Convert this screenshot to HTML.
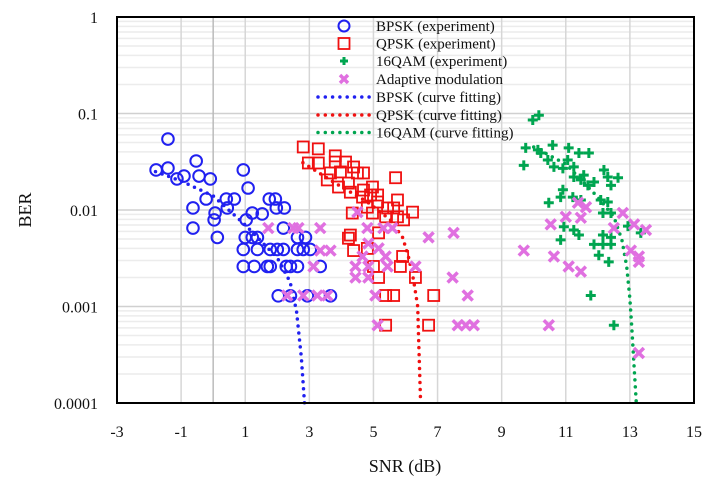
<!DOCTYPE html>
<html><head><meta charset="utf-8"><style>
html,body{margin:0;padding:0;background:#fff;}
svg{display:block;font-family:"Liberation Serif",serif;}
</style></head><body>
<svg id="chart" width="712" height="483" viewBox="0 0 712 483"></svg>
<script>
const bpskX=[-1.41,-1.78,-1.41,-0.53,-1.13,-0.91,-0.44,-0.09,0.94,1.09,-0.22,0.41,0.66,0.44,-0.63,0.06,0.03,-0.63,0.13,1.22,1.53,1.03,1.75,1.94,1.97,2.22,2.19,1.0,1.22,1.38,2.63,2.88,0.94,1.38,1.78,2.0,2.19,2.63,2.81,3.03,0.94,1.28,1.69,1.78,2.28,2.41,2.63,3.34,2.03,2.41,2.94,3.66];
const bpskY=[0.0544,0.026,0.0272,0.0322,0.021,0.0225,0.0225,0.021,0.026,0.0169,0.013,0.013,0.013,0.0105,0.0105,0.0093,0.0079,0.0065,0.0052,0.0093,0.0091,0.0079,0.013,0.013,0.0105,0.0105,0.0065,0.0052,0.0052,0.0052,0.0052,0.0052,0.0039,0.0039,0.0039,0.0039,0.0039,0.0039,0.0039,0.0039,0.0026,0.0026,0.0026,0.0026,0.0026,0.0026,0.0026,0.0026,0.00129,0.00129,0.00129,0.00129];
const qpskX=[2.81,3.28,2.97,3.28,3.81,3.81,4.13,3.66,3.97,4.38,4.5,4.69,3.56,3.91,4.22,4.28,4.69,4.97,5.69,4.66,4.91,5.13,5.13,4.81,4.97,5.44,5.75,5.63,5.38,5.75,5.94,6.22,4.34,4.28,4.22,5.16,4.38,4.81,5.91,5.0,5.84,5.16,6.31,5.38,5.63,6.88,5.38,6.72];
const qpskY=[0.045,0.043,0.0307,0.0307,0.0364,0.0314,0.0314,0.0242,0.0248,0.0279,0.0242,0.0242,0.0205,0.0173,0.019,0.0153,0.0161,0.0173,0.0216,0.0136,0.0143,0.0143,0.0121,0.0107,0.0093,0.0105,0.0127,0.0105,0.0085,0.0085,0.0079,0.0095,0.0093,0.0055,0.0051,0.0058,0.0038,0.004,0.0033,0.0026,0.0026,0.002,0.002,0.0013,0.0013,0.0013,0.00064,0.00064];
const qamX=[10.16,9.97,9.75,9.69,10.13,10.22,10.59,10.44,10.63,11.09,11.06,10.91,11.25,11.41,11.72,11.25,11.47,11.56,11.69,11.88,12.19,12.31,12.63,12.41,10.91,10.84,10.47,11.22,11.47,12.09,12.31,12.16,12.41,10.94,11.25,11.41,10.84,12.16,12.41,11.88,12.16,12.41,12.03,12.34,12.94,13.34,11.78,12.5];
const qamY=[0.096,0.0856,0.044,0.029,0.042,0.039,0.047,0.033,0.028,0.044,0.033,0.027,0.028,0.039,0.039,0.022,0.0205,0.023,0.018,0.0195,0.026,0.022,0.0216,0.018,0.0162,0.0136,0.0119,0.0136,0.0127,0.0127,0.0121,0.0093,0.0093,0.0067,0.0062,0.0055,0.0049,0.0055,0.0052,0.0044,0.0044,0.0044,0.0034,0.0029,0.0068,0.0058,0.0013,0.00064];
const adaX=[1.72,2.5,2.66,3.34,4.81,5.31,6.72,4.5,3.34,3.66,4.84,5.16,4.66,5.38,4.44,4.84,5.44,6.31,3.13,4.44,4.84,2.31,2.81,3.25,3.56,5.06,5.13,7.5,7.47,7.94,5.59,7.63,7.88,8.13,9.69,10.47,10.53,11.0,11.47,11.38,11.63,10.63,11.09,11.47,12.78,12.5,13.13,13.5,13.03,13.28,13.28,13.28];
const adaY=[0.0065,0.0065,0.0065,0.0065,0.0065,0.0065,0.0052,0.0095,0.0038,0.0038,0.0045,0.004,0.0033,0.0033,0.0026,0.0026,0.0026,0.0026,0.0026,0.002,0.002,0.0013,0.0013,0.0013,0.0013,0.0013,0.00064,0.0058,0.002,0.0013,0.0065,0.00064,0.00064,0.00064,0.0038,0.00064,0.0071,0.0085,0.0083,0.0119,0.0107,0.0033,0.0026,0.0023,0.0093,0.0065,0.0071,0.0062,0.0038,0.0033,0.0029,0.00033];
const fitBpskX=[-1.8,-1,0,1,2,2.4,2.6,2.75,2.85];
const fitBpskY=[0.025,0.02,0.014,0.007,0.0032,0.0018,0.0009,0.0003,0.0001];
const fitQpskX=[2.8,3.75,4.81,5.53,5.91,6.09,6.25,6.38,6.41,6.47];
const fitQpskY=[0.031,0.0195,0.0121,0.0079,0.0052,0.0033,0.0019,0.001,0.00047,0.0001];
const fitQamX=[10,11,12,12.5,12.75,12.9,13.0,13.06,13.12,13.2];
const fitQamY=[0.045,0.03,0.0136,0.0085,0.0049,0.0026,0.0012,0.0006,0.00028,0.0001];
const xTicks=[-3,-1,1,3,5,7,9,11,13,15];
const yTicks=[1,0.1,0.01,0.001,0.0001];
const yTickLabels=["1","0.1","0.01","0.001","0.0001"];

const L=117,R=694,T=17,B=403;
const sx=v=>L+(v+3)/18*(R-L);
const sy=v=>T+(-Math.log10(v))/4*(B-T);
const svg=document.getElementById('chart');
const NS='http://www.w3.org/2000/svg';
function mk(tag,attrs,parent){const e=document.createElementNS(NS,tag);for(const k in attrs)e.setAttribute(k,attrs[k]);(parent||svg).appendChild(e);return e;}

const grid=mk('g',{});


for(let d=0;d<4;d++){for(let m=2;m<=9;m++){const v=Math.pow(10,-d-1)*m;mk('line',{x1:L,x2:R,y1:sy(v),y2:sy(v),stroke:'#ececec','stroke-width':1.5},grid);}}
yTicks.forEach(v=>mk('line',{x1:L,x2:R,y1:sy(v),y2:sy(v),stroke:'#d0d0d0','stroke-width':1.5},grid));
xTicks.forEach(v=>mk('line',{x1:sx(v),x2:sx(v),y1:T,y2:B,stroke:'#d6d6d6','stroke-width':1.5},grid));
mk('line',{x1:sx(0),x2:sx(0),y1:T,y2:B,stroke:'#bbbbbb','stroke-width':1.5},grid);

function curve(xs,ys,color,name){const g=mk('g',{});


const d=xs.map((x,i)=>(i?'L':'M')+sx(x).toFixed(1)+' '+sy(ys[i]).toFixed(1)).join(' ');
mk('path',{d:d,fill:'none',stroke:color,'stroke-width':3.5,'stroke-linecap':'round','stroke-dasharray':'0 7'},g);}

function circles(xs,ys){const g=mk('g',{});


xs.forEach((x,i)=>mk('circle',{cx:sx(x),cy:sy(ys[i]),r:5.8,fill:'none',stroke:'#2020f0','stroke-width':2},g));}
function squares(xs,ys){const g=mk('g',{});


xs.forEach((x,i)=>mk('rect',{x:sx(x)-5.5,y:sy(ys[i])-5.5,width:11,height:11,fill:'none',stroke:'#f01010','stroke-width':1.8},g));}
function pluses(xs,ys){const g=mk('g',{});


xs.forEach((x,i)=>{const cx=sx(x),cy=sy(ys[i]);mk('path',{d:`M${cx-5} ${cy}H${cx+5}M${cx} ${cy-5}V${cy+5}`,stroke:'#00a550','stroke-width':3},g);});}
function crosses(xs,ys){const g=mk('g',{});


xs.forEach((x,i)=>{const cx=sx(x),cy=sy(ys[i]);mk('path',{d:`M${cx-5} ${cy-5}L${cx+5} ${cy+5}M${cx-5} ${cy+5}L${cx+5} ${cy-5}`,stroke:'#e070e0','stroke-width':3.5},g);});}

curve(fitBpskX,fitBpskY,'#2020f0','bpsk-fit-curve');
curve(fitQpskX,fitQpskY,'#f01010','qpsk-fit-curve');
curve(fitQamX,fitQamY,'#00a550','16qam-fit-curve');
circles(bpskX,bpskY);squares(qpskX,qpskY);pluses(qamX,qamY);crosses(adaX,adaY);

const frame=mk('rect',{x:L,y:T,width:R-L,height:B-T,fill:'none',stroke:'#000','stroke-width':2});



xTicks.forEach(v=>{const t=mk('text',{x:sx(v),y:437,'text-anchor':'middle','font-size':16,fill:'#111'});t.textContent=v;

});
yTicks.forEach((v,i)=>{const t=mk('text',{x:98,y:sy(v)+6,'text-anchor':'end','font-size':16,fill:'#111'});t.textContent=yTickLabels[i];

});
const xt=mk('text',{x:405,y:472,'text-anchor':'middle','font-size':18,fill:'#111'});xt.textContent='SNR (dB)';


const yt=mk('text',{x:0,y:0,'text-anchor':'middle','font-size':18,fill:'#111',transform:'translate(31,210) rotate(-90)'});yt.textContent='BER';



const lg=mk('g',{});


const labels=['BPSK (experiment)','QPSK (experiment)','16QAM (experiment)','Adaptive modulation','BPSK (curve fitting)','QPSK (curve fitting)','16QAM (curve fitting)'];
const rowY=[26,43.5,61,79,97,115,132.5];
labels.forEach((s,i)=>{const y=rowY[i],cx=344;
if(i==0)mk('circle',{cx:cx,cy:y,r:5.5,fill:'none',stroke:'#2020f0','stroke-width':2},lg);
if(i==1)mk('rect',{x:cx-5.5,y:y-5.5,width:11,height:11,fill:'none',stroke:'#f01010','stroke-width':1.8},lg);
if(i==2)mk('path',{d:`M${cx-4} ${y}H${cx+4}M${cx} ${y-4}V${y+4}`,stroke:'#00a550','stroke-width':3},lg);
if(i==3)mk('path',{d:`M${cx-4} ${y-4}L${cx+4} ${y+4}M${cx-4} ${y+4}L${cx+4} ${y-4}`,stroke:'#e070e0','stroke-width':3.5},lg);
if(i>=4){const c=['#2020f0','#f01010','#00a550'][i-4];mk('path',{d:`M318 ${y}H370`,stroke:c,'stroke-width':3.5,'stroke-linecap':'round','stroke-dasharray':'0 7.3'},lg);}
const t=mk('text',{x:376,y:y+5,'font-size':15,fill:'#111'},lg);t.textContent=s;

});
</script>
</body></html>
